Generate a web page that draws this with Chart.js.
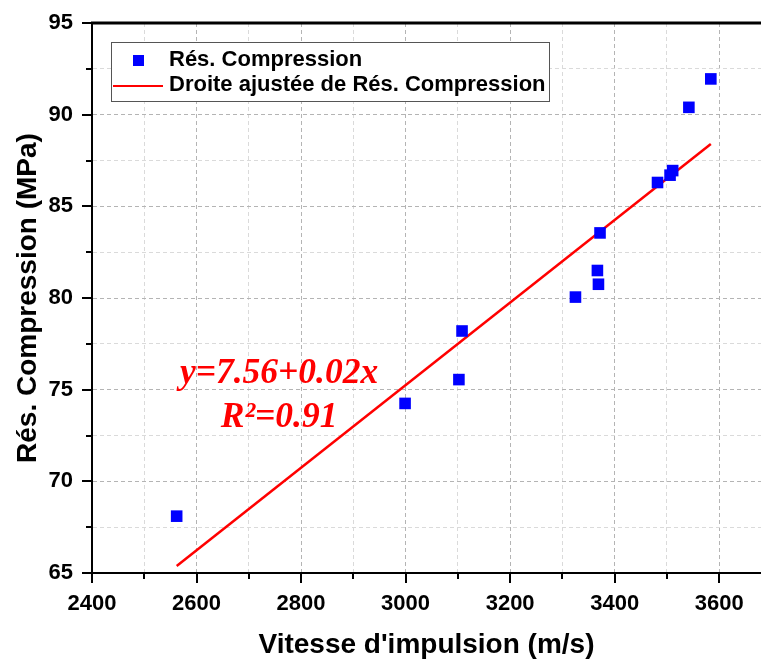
<!DOCTYPE html>
<html lang="fr">
<head>
  <meta charset="UTF-8">
  <title>Rés. Compression vs Vitesse d'impulsion</title>
  <script src="https://cdn.jsdelivr.net/npm/chart.js"></script>
  <style>
    html, body { margin: 0; padding: 0; background: #fff; }
    canvas { display: block; }
  </style>
</head>
<body>
  <canvas id="graphChart" width="761" height="659"></canvas>
  <script>
    // measured points (m/s, MPa)
    const speed = [2562, 2999, 3102, 3108, 3325, 3367, 3369, 3372, 3482, 3506, 3511, 3542, 3584];
    const strength = [68.1, 74.25, 75.55, 78.2, 80.05, 81.5, 80.75, 83.55, 86.3, 86.7, 86.95, 90.4, 91.95];
    // fitted line end points as drawn
    const fitX = [2562, 3584];
    const fitY = [65.38, 88.4];
    // axis ticks / grid
    const xTicks = [2400, 2500, 2600, 2700, 2800, 2900, 3000, 3100, 3200, 3300, 3400, 3500, 3600];
    const yTicks = [65, 67.5, 70, 72.5, 75, 77.5, 80, 82.5, 85, 87.5, 90, 92.5, 95];
    const equation = ['y=7.56+0.02x', 'R²=0.91'];

    const sans = "'Liberation Sans', Arial, sans-serif";
    const xMajor = v => v % 200 === 0;
    const yMajor = v => v % 5 === 0;

    // outward tick marks, top frame, legend box and equation text
    const extras = {
      id: 'extras',
      afterDraw(chart) {
        const ctx = chart.ctx;
        const area = chart.chartArea;
        const xs = chart.scales.x, ys = chart.scales.y;
        ctx.save();
        ctx.strokeStyle = '#000';
        ctx.lineWidth = 2;
        ctx.beginPath();
        xTicks.forEach(v => {
          const px = Math.round(xs.getPixelForValue(v));
          ctx.moveTo(px, area.bottom);
          ctx.lineTo(px, area.bottom + (xMajor(v) ? 10 : 6));
        });
        yTicks.forEach(v => {
          const py = Math.round(ys.getPixelForValue(v));
          ctx.moveTo(area.left, py);
          ctx.lineTo(area.left - (yMajor(v) ? 10 : 6), py);
        });
        ctx.stroke();

        // top frame
        ctx.lineWidth = 3;
        ctx.beginPath();
        ctx.moveTo(area.left - 1, area.top);
        ctx.lineTo(area.right, area.top);
        ctx.stroke();

        // legend
        const lx = area.left + 19, ly = area.top + 19;
        ctx.fillStyle = '#fff';
        ctx.fillRect(lx, ly, 438, 59);
        ctx.strokeStyle = '#555';
        ctx.lineWidth = 1;
        ctx.strokeRect(lx + 0.5, ly + 0.5, 438, 59);
        ctx.fillStyle = '#0000ff';
        ctx.fillRect(lx + 22, ly + 13, 11, 11);
        ctx.strokeStyle = '#ff0000';
        ctx.lineWidth = 2;
        ctx.beginPath();
        ctx.moveTo(lx + 2, ly + 44);
        ctx.lineTo(lx + 52, ly + 44);
        ctx.stroke();
        ctx.fillStyle = '#000';
        ctx.font = 'bold 22px ' + sans;
        ctx.textBaseline = 'middle';
        ctx.textAlign = 'left';
        ctx.fillText('Rés. Compression', lx + 58, ly + 18);
        ctx.fillText('Droite ajustée de Rés. Compression', lx + 58, ly + 43);

        // equation
        ctx.fillStyle = '#ff0000';
        ctx.font = "italic bold 35.5px 'Liberation Serif', 'Times New Roman', serif";
        ctx.textAlign = 'center';
        ctx.textBaseline = 'alphabetic';
        const ex = xs.getPixelForValue(2758);
        ctx.fillText(equation[0], ex, ys.getPixelForValue(75.36));
        ctx.fillText(equation[1], ex, ys.getPixelForValue(72.96));
        ctx.restore();
      }
    };

    const ctx = document.getElementById('graphChart').getContext('2d');
    new Chart(ctx, {
      type: 'scatter',
      data: {
        datasets: [
          {
            label: 'Rés. Compression',
            data: speed.map((v, i) => ({ x: v, y: strength[i] })),
            pointStyle: 'rect',
            pointRadius: 8.2,
            pointBackgroundColor: '#0000ff',
            pointBorderColor: '#0000ff',
            pointBorderWidth: 0,
            order: 1
          },
          {
            label: 'Droite ajustée de Rés. Compression',
            data: fitX.map((v, i) => ({ x: v, y: fitY[i] })),
            showLine: true,
            borderColor: '#ff0000',
            borderWidth: 2.5,
            pointRadius: 0,
            order: 2
          }
        ]
      },
      options: {
        responsive: false,
        animation: false,
        layout: { autoPadding: false, padding: { left: 13, top: 23, right: 0, bottom: 0 } },
        plugins: { legend: { display: false }, tooltip: { enabled: false } },
        scales: {
          x: {
            type: 'linear',
            min: 2400,
            max: 3680,
            afterBuildTicks: s => { s.ticks = xTicks.map(v => ({ value: v })); },
            afterFit: s => { s.height = 86; s.paddingLeft = 0; s.paddingRight = 0; },
            ticks: {
              autoSkip: false,
              maxRotation: 0,
              padding: 8,
              color: '#000',
              font: { family: sans, size: 22, weight: 'bold' },
              callback: v => xMajor(v) ? String(v) : ''
            },
            grid: {
              color: c => xMajor(c.tick.value) ? '#b4b4b4' : '#dadada',
              lineWidth: 1,
              tickLength: 10,
              tickColor: 'rgba(0,0,0,0)'
            },
            border: { color: '#000', width: 2, dash: [4, 3] },
            title: {
              display: true,
              text: "Vitesse d'impulsion (m/s)",
              color: '#000',
              font: { family: sans, size: 28, weight: 'bold', lineHeight: 1 },
              padding: { top: 0, bottom: 0 }
            }
          },
          y: {
            min: 65,
            max: 95,
            afterBuildTicks: s => { s.ticks = yTicks.map(v => ({ value: v })); },
            afterFit: s => { s.width = 79; s.paddingTop = 0; s.paddingBottom = 0; },
            ticks: {
              autoSkip: false,
              padding: 9,
              color: '#000',
              font: { family: sans, size: 22, weight: 'bold' },
              callback: v => yMajor(v) ? String(v) : ''
            },
            grid: {
              color: c => yMajor(c.tick.value) ? '#b4b4b4' : '#dadada',
              lineWidth: 1,
              tickLength: 10,
              tickColor: 'rgba(0,0,0,0)'
            },
            border: { color: '#000', width: 2, dash: [4, 3] },
            title: {
              display: true,
              text: 'Rés. Compression (MPa)',
              color: '#000',
              font: { family: sans, size: 28, weight: 'bold', lineHeight: 1 },
              padding: { top: 1, bottom: 1 }
            }
          }
        }
      },
      plugins: [extras]
    });
  </script>
</body>
</html>
